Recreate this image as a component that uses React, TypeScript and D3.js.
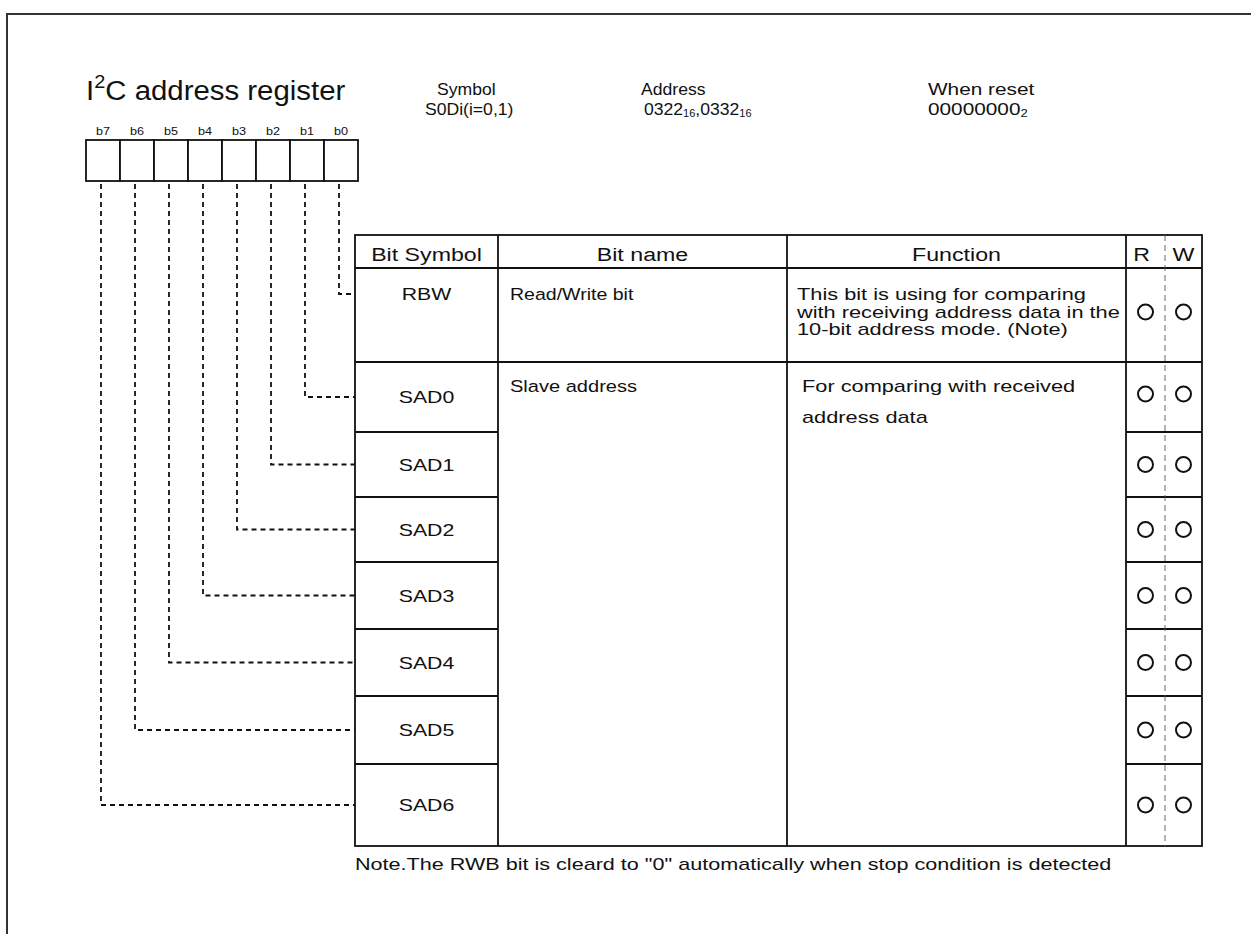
import React from 'react';
import * as d3 from 'd3';

// register bits, left to right
const bitLabels = ['b7', 'b6', 'b5', 'b4', 'b3', 'b2', 'b1', 'b0'];
// table rows, top to bottom
const bitSymbols = ['RBW', 'SAD0', 'SAD1', 'SAD2', 'SAD3', 'SAD4', 'SAD5', 'SAD6'];
const headers = ['Bit Symbol', 'Bit name', 'Function', 'R', 'W'];
const bitNames = ['Read/Write bit', 'Slave address'];
const functionRBW = [
  'This bit is using for comparing',
  'with receiving address data in the',
  '10-bit address mode. (Note)',
];
const functionSAD = ['For comparing with received', 'address data'];
const readable = [true, true, true, true, true, true, true, true];
const writable = [true, true, true, true, true, true, true, true];
const noteText = 'Note.The RWB bit is cleard to "0" automatically when stop condition is detected';

// layout
const FONT = '"Liberation Sans", Arial, Helvetica, sans-serif';
const colEdges = [355, 498, 787, 1126, 1165, 1202];
const tableTop = 235;
const headerH = 33;
const rowHeights = [94, 70, 65, 65, 67, 67, 68, 82];

// text in the source is drawn wider than plain Arial
const SText = ({ x, y, sx = 1.27, size, anchor = 'start', children }: any) => (
  <text transform={`translate(${x},${y}) scale(${sx},1)`} fontSize={size} textAnchor={anchor} fill="#111">
    {children}
  </text>
);

const App = () => {
  const x = d3.scaleBand().domain(bitLabels).range([86, 358]);
  const boxTop = 140;
  const boxBottom = 181;

  const rowTops = [tableTop + headerH];
  rowHeights.forEach((h, i) => rowTops.push(rowTops[i] + h));
  const tableBottom = rowTops[rowTops.length - 1];
  const rowMid = (i: number) => rowTops[i] + rowHeights[i] / 2;
  const anchorY = (i: number) => (i === 0 ? rowTops[0] + 26 : rowMid(i));

  const rCx = (colEdges[3] + colEdges[4]) / 2;
  const wCx = (colEdges[4] + colEdges[5]) / 2;

  return (
    <svg width={1251} height={934} style={{ position: 'absolute', left: 0, top: 0, background: '#fff' }}
      fontFamily={FONT}>
      <path d="M7,934V14H1251" fill="none" stroke="#333" strokeWidth={2} />

      {/* title */}
      <SText x={86} y={100} size={28} sx={1.05}>
        I<tspan fontSize={19} dy={-12}>2</tspan><tspan dy={12}>C address register</tspan>
      </SText>

      {/* info */}
      <SText x={437} y={95} size={16} sx={1.1}>Symbol</SText>
      <SText x={425} y={115} size={16} sx={1.1}>S0Di(i=0,1)</SText>
      <SText x={641} y={95} size={16} sx={1.1}>Address</SText>
      <SText x={644} y={115} size={16} sx={1.1}>
        0322<tspan fontSize={10} dy={2}>16</tspan><tspan dy={-2}>,0332</tspan><tspan fontSize={10} dy={2}>16</tspan>
      </SText>
      <SText x={928} y={95} size={16} sx={1.3}>When reset</SText>
      <SText x={928} y={115} size={16} sx={1.3}>
        00000000<tspan fontSize={10} dy={2}>2</tspan>
      </SText>

      {/* register boxes */}
      {bitLabels.map(b => (
        <g key={b}>
          <SText x={x(b)! + x.bandwidth() / 2} y={135} size={11} sx={1.15} anchor="middle">{b}</SText>
          <rect x={x(b)} y={boxTop} width={x.bandwidth()} height={boxBottom - boxTop}
            fill="#fff" stroke="#111" strokeWidth={1.8} />
        </g>
      ))}

      {/* connectors */}
      {bitLabels.map((b, j) => {
        const row = bitLabels.length - 1 - j;
        const cx = x(b)! + x.bandwidth() / 2 - 2;
        const y = anchorY(row);
        return (
          <path key={'c' + b} d={`M${cx},${boxBottom + 3}V${y}H${colEdges[0]}`}
            fill="none" stroke="#111" strokeWidth={1.8} strokeDasharray="5,4" />
        );
      })}

      {/* table */}
      <g stroke="#111" strokeWidth={1.8} fill="none">
        <rect x={colEdges[0]} y={tableTop} width={colEdges[5] - colEdges[0]} height={tableBottom - tableTop} />
        <line x1={colEdges[0]} x2={colEdges[5]} y1={rowTops[0]} y2={rowTops[0]} />
        <line x1={colEdges[0]} x2={colEdges[5]} y1={rowTops[1]} y2={rowTops[1]} />
        {[1, 2, 3].map(c => (
          <line key={'v' + c} x1={colEdges[c]} x2={colEdges[c]} y1={tableTop} y2={tableBottom} />
        ))}
        {rowTops.slice(2, -1).map((y, i) => (
          <g key={'h' + i}>
            <line x1={colEdges[0]} x2={colEdges[1]} y1={y} y2={y} />
            <line x1={colEdges[3]} x2={colEdges[5]} y1={y} y2={y} />
          </g>
        ))}
      </g>
      <line x1={colEdges[4]} x2={colEdges[4]} y1={tableTop} y2={tableBottom}
        stroke="#555" strokeWidth={0.9} strokeDasharray="6,4" />

      {/* header texts */}
      {headers.map((h, i) => (
        <SText key={h} x={(colEdges[i] + colEdges[i + 1]) / 2 - (i === 3 ? 4 : 0)} y={261}
          size={19} sx={1.22} anchor="middle">{h}</SText>
      ))}

      {/* body texts */}
      {bitSymbols.map((s, i) => (
        <SText key={s} x={(colEdges[0] + colEdges[1]) / 2} y={anchorY(i) + 6} size={17} sx={1.25} anchor="middle">{s}</SText>
      ))}
      <SText x={510} y={300} size={17} sx={1.15}>{bitNames[0]}</SText>
      <SText x={510} y={392} size={17} sx={1.18}>{bitNames[1]}</SText>
      {functionRBW.map((t, i) => (
        <SText key={t} x={797} y={300 + i * 17.5} size={17} sx={1.28}>{t}</SText>
      ))}
      {functionSAD.map((t, i) => (
        <SText key={t} x={802} y={392 + i * 31} size={17} sx={1.28}>{t}</SText>
      ))}

      {/* R/W marks */}
      <g fill="none" stroke="#111" strokeWidth={2}>
        {bitSymbols.map((s, i) => (
          <g key={'m' + s}>
            {readable[i] && <circle cx={rCx} cy={rowMid(i) - (i < 2 ? 3 : 0)} r={7.5} />}
            {writable[i] && <circle cx={wCx} cy={rowMid(i) - (i < 2 ? 3 : 0)} r={7.5} />}
          </g>
        ))}
      </g>

      <SText x={355} y={870} size={17} sx={1.27}>{noteText}</SText>
    </svg>
  );
};

export default App;
